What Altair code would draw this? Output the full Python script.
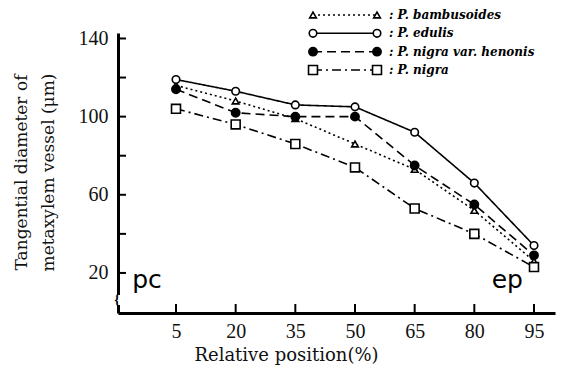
import altair as alt
import pandas as pd

positions = [5, 20, 35, 50, 65, 80, 95]
series_names = ["P. bambusoides", "P. edulis", "P. nigra var. henonis", "P. nigra"]
legend_labels = [": P. bambusoides", ": P. edulis", ": P. nigra  var. henonis", ": P. nigra"]
bambusoides = [116, 108, 99, 86, 73, 52, 26]
edulis = [119, 113, 106, 105, 92, 66, 34]
henonis = [114, 102, 100, 100, 75, 55, 29]
nigra = [104, 96, 86, 74, 53, 40, 23]
y_tick_values = [20, 40, 60, 80, 100, 120, 140]
y_label_values = [20, 60, 100, 140]
x_tick_values = positions

shapes = ["triangle-up", "circle", "circle", "square"]
fills = ["white", "white", "black", "white"]
sizes = [45, 80, 80, 85]
dashes = [[2, 3], [1, 0], [9, 5], [9, 4, 2, 4]]

rows = []
for name, vals in zip(series_names, [bambusoides, edulis, henonis, nigra]):
    for p, v in zip(positions, vals):
        rows.append({"series": name, "pos": p, "val": v})
df = pd.DataFrame(rows)

leg = pd.DataFrame({"series": series_names, "label": legend_labels, "row": [0, 1, 2, 3]})
yt = pd.DataFrame({"v": y_tick_values})
xt = pd.DataFrame({"v": x_tick_values})
ann = pd.DataFrame({"t": ["pc", "ep"], "pos": [-2.3, 88.3], "val": [12.3, 12.3]})
brk = pd.DataFrame({"t": ["{"]})

xscale = alt.Scale(domain=[-9.58, 100.28], nice=False, zero=False)
yscale = alt.Scale(domain=[-0.5, 142.8], nice=False, zero=False)

shape_s = alt.Scale(domain=series_names, range=shapes)
fill_s = alt.Scale(domain=series_names, range=fills)
size_s = alt.Scale(domain=series_names, range=sizes)
dash_s = alt.Scale(domain=series_names, range=dashes)

x_enc = alt.X("pos:Q", scale=xscale,
              axis=alt.Axis(values=positions, tickSize=0, labelPadding=8, labelFont="Liberation Serif",
                            labelFontSize=20, labelColor="#111", domainWidth=3, domainColor="black",
                            grid=False, title="Relative position(%)", titleFont="DejaVu Serif",
                            titleFontSize=18, titleFontWeight="normal", titleColor="#111",
                            titleX=168, titleY=47, titleAlign="center", titleBaseline="alphabetic"))
y_enc = alt.Y("val:Q", scale=yscale,
              axis=alt.Axis(values=y_label_values, tickSize=0, labelPadding=10, labelFont="Liberation Serif",
                            labelFontSize=20, labelColor="#111", domainWidth=3, domainColor="black",
                            grid=False, title=["Tangential diameter of", "metaxylem vessel (μm)"],
                            titleFont="DejaVu Serif", titleFontSize=17, titleFontWeight="normal",
                            titleColor="#111", titleAngle=270, titleX=-105, titleY=139,
                            titleAlign="center", titleBaseline="top", titleLineHeight=27))

y_plain = alt.Y("val:Q", scale=yscale, axis=None)

lines = alt.Chart(df).mark_line(color="black", strokeWidth=1.6).encode(
    x=x_enc, y=y_enc,
    strokeDash=alt.StrokeDash("series:N", scale=dash_s, legend=None),
)
points = alt.Chart(df).mark_point(filled=True, stroke="black", strokeWidth=1.6, opacity=1).encode(
    x=alt.X("pos:Q", scale=xscale),
    y=y_plain,
    shape=alt.Shape("series:N", scale=shape_s, legend=None),
    fill=alt.Fill("series:N", scale=fill_s, legend=None),
    size=alt.Size("series:N", scale=size_s, legend=None),
)
ytick_marks = alt.Chart(yt).mark_rule(color="black", strokeWidth=2).encode(
    y=alt.Y("v:Q", scale=yscale, axis=None), x=alt.value(0), x2=alt.value(8))
xtick_marks = alt.Chart(xt).mark_rule(color="black", strokeWidth=2).encode(
    x=alt.X("v:Q", scale=xscale), y=alt.value(271), y2=alt.value(280))
annot = alt.Chart(ann).mark_text(font="DejaVu Sans", fontSize=25, color="black",
                                 baseline="alphabetic", align="center").encode(
    x=alt.X("pos:Q", scale=xscale), y=y_plain, text="t:N")

# axis break
brk_mask = alt.Chart(brk).mark_rule(color="white", strokeWidth=6).encode(
    x=alt.value(0), y=alt.value(262), y2=alt.value(272))
brk_mark = alt.Chart(brk).mark_text(font="Liberation Serif", fontSize=14, fontWeight="bold",
                                    color="black", align="center", baseline="middle").encode(
    x=alt.value(-1), y=alt.value(267), text="t:N")

leg_y = alt.Y("row:Q", scale=alt.Scale(domain=[0, 3], range=[-18, 37]), axis=None)
leg_lines = alt.Chart(leg).mark_rule(color="black", strokeWidth=1.5).encode(
    x=alt.value(195), x2=alt.value(259), y=leg_y,
    strokeDash=alt.StrokeDash("series:N", scale=dash_s, legend=None))
leg_pts = []
for xv in [195, 259]:
    leg_pts.append(alt.Chart(leg).mark_point(filled=True, stroke="black", strokeWidth=1.6, opacity=1).encode(
        x=alt.value(xv), y=leg_y,
        shape=alt.Shape("series:N", scale=shape_s, legend=None),
        fill=alt.Fill("series:N", scale=fill_s, legend=None),
        size=alt.Size("series:N", scale=size_s, legend=None)))
leg_text = alt.Chart(leg).mark_text(font="DejaVu Serif", fontSize=12, fontStyle="italic", fontWeight="bold",
                                    align="left", baseline="middle", color="black").encode(
    x=alt.value(271), y=leg_y, text="label:N")

chart = alt.layer(lines, points, ytick_marks, xtick_marks, annot, brk_mask, brk_mark,
                  leg_lines, leg_pts[0], leg_pts[1], leg_text).resolve_scale(y="independent").properties(
    width=437, height=280,
    autosize=alt.AutoSizeParams(type="none"),
    padding={"left": 110, "top": 25, "right": 13, "bottom": 57},
    background="white",
).configure_view(stroke=None)

chart.save("out.html", embed_options={"renderer": "svg", "actions": False})
